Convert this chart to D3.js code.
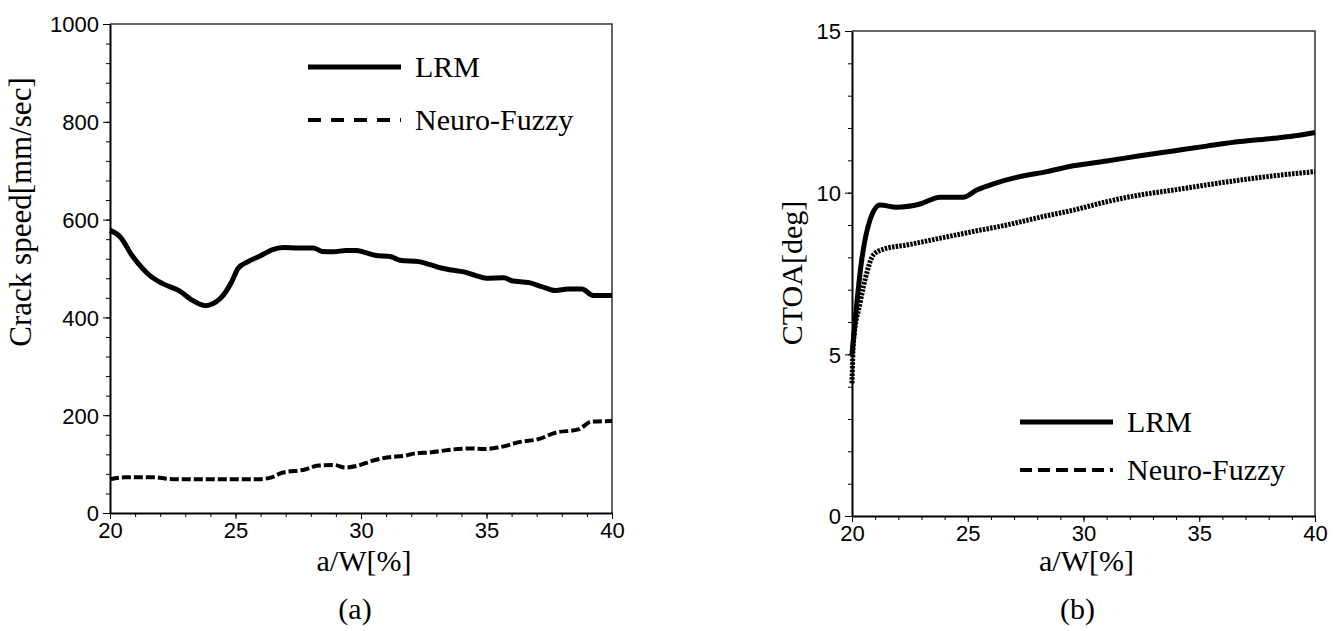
<!DOCTYPE html>
<html>
<head>
<meta charset="utf-8">
<script src="https://cdn.jsdelivr.net/npm/d3@7"></script>
<style>
    body { margin: 0; background: #fff; }
    .tick text { font-family: 'Liberation Sans', Arial, sans-serif; }
</style>
</head>
<body>
<div id="graph"></div>
<script>
// values
var xTicks = [20, 25, 30, 35, 40];
var speedTicks = [0, 200, 400, 600, 800, 1000];
var ctoaTicks = [0, 5, 10, 15];

var speedLRM = [[20, 578], [20.4, 565], [20.9, 525], [21.13, 510], [21.6, 485], [22.06, 470],
    [22.8, 453], [23.25, 436], [23.8, 424], [24.4, 439], [24.85, 473], [25.1, 500], [25.5, 514],
    [26, 526], [26.45, 538], [26.9, 543], [27.5, 542], [28.1, 542], [28.45, 535], [28.9, 534],
    [29.4, 537], [29.8, 537], [30.15, 533], [30.55, 527], [31.2, 524], [31.55, 517], [32.3, 514],
    [32.75, 508], [33.2, 501], [33.6, 497], [34.1, 493], [34.55, 486], [35, 480], [35.7, 481],
    [36, 475], [36.7, 471], [37.2, 463], [37.75, 455], [38.25, 458], [38.8, 458], [39.25, 445],
    [40, 445]];
var speedNF = [[20, 69], [20.6, 73], [21.8, 73], [22.3, 70], [22.85, 69], [25.9, 69], [26.44, 73],
    [26.84, 82], [27.77, 89], [28.3, 97], [28.96, 98], [29.36, 93], [29.9, 97], [30.4, 106],
    [31.1, 114], [31.75, 117], [32.15, 122], [32.8, 124], [33.48, 129], [34.34, 132], [34.94, 131],
    [35.47, 134], [36.4, 146], [37.07, 151], [37.73, 164], [38.66, 171], [39.2, 187], [40, 188]];

var ctoaLRM = [[20, 5.0], [20.42, 7.92], [20.78, 9.16], [21.21, 9.62], [21.93, 9.55], [22.94, 9.65],
    [23.8, 9.86], [24.8, 9.86], [25.39, 10.08], [26.18, 10.29], [27.26, 10.5], [28.41, 10.65],
    [29.56, 10.83], [31, 10.98], [32.44, 11.14], [33.88, 11.29], [35.32, 11.44], [36.76, 11.58],
    [38.2, 11.68], [39.06, 11.75], [40, 11.86]];
var ctoaNF = [[20, 4.1], [20.06, 5.35], [20.35, 6.59], [20.63, 7.5], [20.92, 8.07], [21.35, 8.25],
    [22.36, 8.38], [23.8, 8.59], [25.24, 8.8], [26.68, 9.0], [28.12, 9.24], [29.56, 9.46],
    [31, 9.72], [32.44, 9.93], [33.88, 10.08], [35.32, 10.24], [36.76, 10.39], [38.2, 10.52],
    [40, 10.65]];

var serif = "'Liberation Serif', 'Times New Roman', serif";

var svg = d3.select('#graph')
    .append('svg')
        .attr('width', 1335)
        .attr('height', 631);

function panel(opt) {
    var x = d3.scaleLinear().domain([20, 40]).range([opt.left, opt.right]);
    var y = d3.scaleLinear().domain([0, opt.yMax]).range([opt.bottom, opt.top]);
    var g = svg.append('g');

    // frame (top and right)
    g.append('path')
        .attr('d', 'M' + opt.left + ',' + opt.top + 'H' + opt.right + 'V' + opt.bottom)
        .attr('fill', 'none')
        .attr('stroke', '#333')
        .attr('stroke-width', 1.5);

    // minor ticks
    g.append('g')
        .attr('transform', 'translate(' + opt.left + ',0)')
        .call(d3.axisLeft(y).tickValues(d3.range(0, opt.yMax + 1e-9, opt.yMinor)).tickSize(4).tickFormat(''))
        .call(function(a) { a.select('.domain').remove(); });
    g.append('g')
        .attr('transform', 'translate(0,' + opt.bottom + ')')
        .call(d3.axisBottom(x).tickValues(d3.range(20, 41, 1)).tickSize(4).tickFormat(''))
        .call(function(a) { a.select('.domain').remove(); });

    // major axes
    var ya = g.append('g')
        .attr('transform', 'translate(' + opt.left + ',0)')
        .call(d3.axisLeft(y).tickValues(opt.yTicks).tickFormat(d3.format('d'))
            .tickSize(7).tickSizeOuter(0).tickPadding(4));
    ya.selectAll('text').style('font-size', '22px').attr('dy', '0.36em');
    ya.select('.domain').attr('stroke-width', 2);

    var xa = g.append('g')
        .attr('transform', 'translate(0,' + opt.bottom + ')')
        .call(d3.axisBottom(x).tickValues(xTicks).tickFormat(d3.format('d'))
            .tickSize(6).tickSizeOuter(0).tickPadding(4));
    xa.selectAll('text').style('font-size', '22px').attr('dy', '0.7em');
    xa.select('.domain').attr('stroke-width', 2);

    var line = d3.line()
        .x(function(d) { return x(d[0]); })
        .y(function(d) { return y(d[1]); })
        .curve(d3.curveMonotoneX);

    g.append('path')
        .datum(opt.nf)
        .attr('d', line)
        .attr('fill', 'none')
        .attr('stroke', '#000')
        .attr('stroke-width', opt.nfWidth)
        .attr('stroke-dasharray', opt.nfDash);
    g.append('path')
        .datum(opt.lrm)
        .attr('d', line)
        .attr('fill', 'none')
        .attr('stroke', '#000')
        .attr('stroke-width', 5)
        .attr('stroke-linejoin', 'round');

    // axis labels
    g.append('text')
        .attr('x', (opt.left + opt.right) / 2 + 3)
        .attr('y', 571)
        .attr('text-anchor', 'middle')
        .style('font-family', serif)
        .style('font-size', '30px')
        .text('a/W[%]');
    g.append('text')
        .attr('transform', 'translate(' + opt.yLabelX + ',' + opt.yLabelY + ') rotate(-90)')
        .attr('text-anchor', 'middle')
        .style('font-family', serif)
        .style('font-size', opt.yLabelSize)
        .text(opt.yLabel);
    g.append('text')
        .attr('x', (opt.left + opt.right) / 2 - 6)
        .attr('y', 619)
        .attr('text-anchor', 'middle')
        .style('font-family', serif)
        .style('font-size', '30px')
        .text(opt.caption);

    // legend
    var lg = g.append('g');
    lg.append('line')
        .attr('x1', opt.legX).attr('x2', opt.legX + 93)
        .attr('y1', opt.legY).attr('y2', opt.legY)
        .attr('stroke', '#000').attr('stroke-width', 5);
    lg.append('line')
        .attr('x1', opt.legX).attr('x2', opt.legX + 93)
        .attr('y1', opt.legY + opt.legGap).attr('y2', opt.legY + opt.legGap)
        .attr('stroke', '#000').attr('stroke-width', 4)
        .attr('stroke-dasharray', opt.legDash);
    lg.append('text')
        .attr('x', opt.legX + 107)
        .attr('y', opt.legY + 10)
        .style('font-family', serif)
        .style('font-size', '30px')
        .text('LRM');
    lg.append('text')
        .attr('x', opt.legX + 107)
        .attr('y', opt.legY + opt.legGap + 10)
        .style('font-family', serif)
        .style('font-size', '30px')
        .text('Neuro-Fuzzy');
}

panel({
    left: 110, right: 612, top: 24, bottom: 513,
    yMax: 1000, yMinor: 40, yTicks: speedTicks,
    lrm: speedLRM, nf: speedNF, nfWidth: 4, nfDash: '9,3',
    yLabel: 'Crack speed[mm/sec]', yLabelX: 31, yLabelY: 212, yLabelSize: '31px',
    caption: '(a)',
    legX: 308, legY: 67, legGap: 53, legDash: '13,10'
});

panel({
    left: 852, right: 1315, top: 31, bottom: 516,
    yMax: 15, yMinor: 1, yTicks: ctoaTicks,
    lrm: ctoaLRM, nf: ctoaNF, nfWidth: 5, nfDash: '2.5,1.2',
    yLabel: 'CTOA[deg]', yLabelX: 802, yLabelY: 273, yLabelSize: '30px',
    caption: '(b)',
    legX: 1020, legY: 422, legGap: 48, legDash: '12,6'
});
</script>
</body>
</html>
